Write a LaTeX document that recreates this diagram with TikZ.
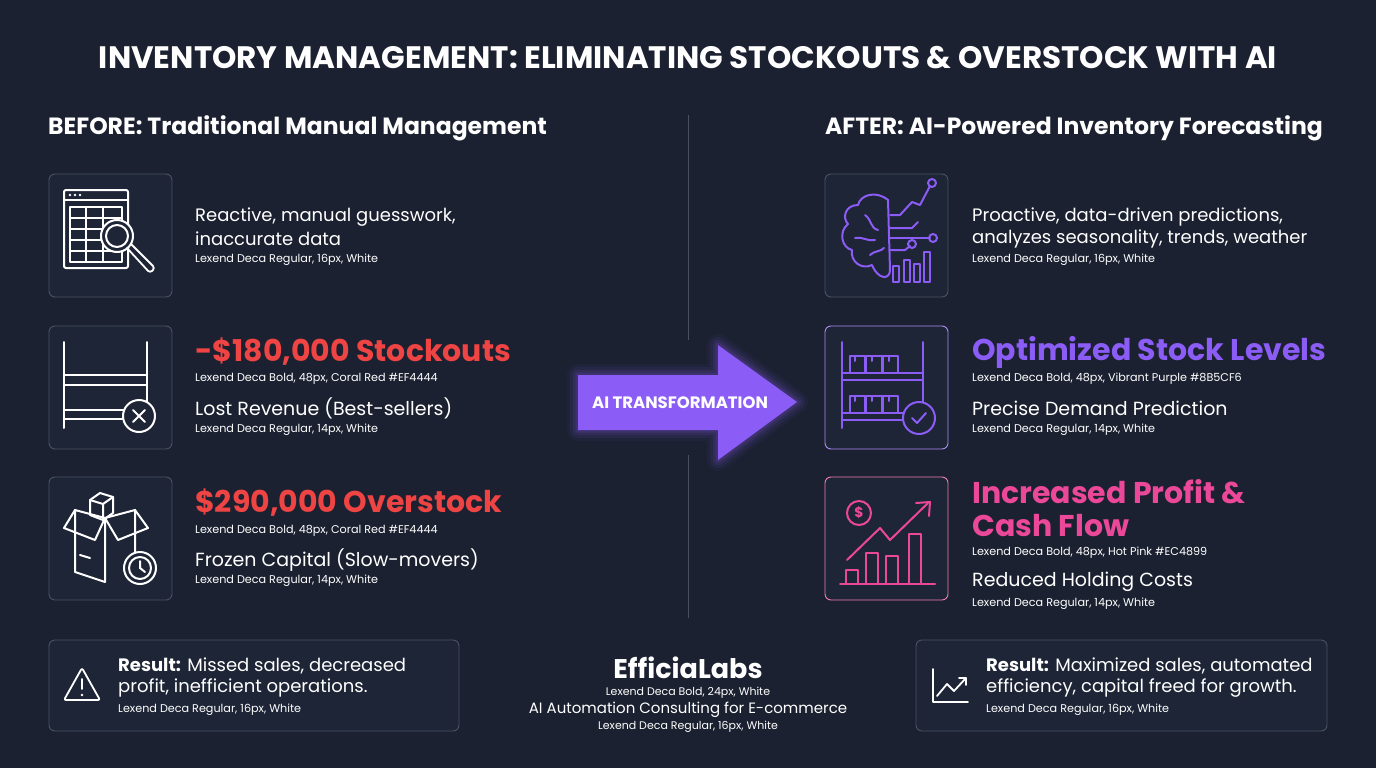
\documentclass[tikz,border=0pt]{standalone}
\usepackage{fontspec}
\setmainfont{Poppins}
\usetikzlibrary{calc}
\definecolor{bg}{HTML}{1B2130}
\definecolor{boxbg}{HTML}{1E2536}
\definecolor{edge}{HTML}{4A5263}
\definecolor{coral}{HTML}{EF4444}
\definecolor{purp}{HTML}{8B5CF6}
\definecolor{pink}{HTML}{EC4899}
\definecolor{divc}{HTML}{4A5060}
\tikzset{
  panel/.style={draw=edge,line width=0.9pt,rounded corners=6pt,fill=boxbg},
  ic/.style={draw=white,line width=2pt,line cap=round,line join=round},
  txt/.style={anchor=west,inner sep=0pt,text=white},
  body/.style={txt,font=\fontsize{18}{20}\selectfont},
  note/.style={txt,font=\fontsize{11.2}{12}\selectfont},
  big/.style={txt,font=\bfseries\fontsize{30}{33}\selectfont},
  head/.style={txt,font=\bfseries\fontsize{23.5}{26}\selectfont},
}
\begin{document}
\begin{tikzpicture}[x=1pt,y=-1pt]
\fill[bg] (0,0) rectangle (1376,768);
\useasboundingbox (0,0) rectangle (1376,768);
% title
\node[font=\bfseries\fontsize{31}{34}\selectfont,text=white,inner sep=0pt] (title) at (688,58) {INVENTORY MANAGEMENT: ELIMINATING STOCKOUTS \& OVERSTOCK WITH AI};
\node[head] (lh) at (48,128) {BEFORE: Traditional Manual Management};
\node[head,anchor=east] (rh) at (1323,128) {AFTER: AI-Powered Inventory Forecasting};
% divider
\coordinate (d1) at (688,115); \coordinate (d2) at (688,340);
\coordinate (d3) at (688,455); \coordinate (d4) at (688,618);
\draw[divc,line width=1pt] (d1)--(d2) (d3)--(d4);
% panels
\node[panel,minimum width=123,minimum height=123] (lb1) at (110.5,235.5) {};
\node[panel,minimum width=123,minimum height=123] (lb2) at (110.5,387.5) {};
\node[panel,minimum width=123,minimum height=123] (lb3) at (110.5,538.5) {};
\node[panel,minimum width=123,minimum height=123] (rb1) at (886.5,235.5) {};
\node[panel,draw=purp!70,minimum width=123,minimum height=123] (rb2) at (886.5,387.5) {};
\node[panel,draw=pink!70,minimum width=123,minimum height=123] (rb3) at (886.5,538.5) {};
% icon 1: spreadsheet + magnifier
\begin{scope}[ic]
\draw[rounded corners=2pt] (64,190) rectangle (128,268);
\draw (64,200)--(128,200);
\fill[white] (70,195) circle (1.3) (75,195) circle (1.3) (80,195) circle (1.3);
\draw (70,207) rectangle (122,262);
\foreach \y in {218,229,240,251} \draw (70,\y)--(122,\y);
\draw (86,207)--(86,262) (103,207)--(103,262);
\draw[fill=boxbg] (117,236) circle (16);
\draw (117,236) circle (11);
\draw[line width=1.8pt,rounded corners=3pt] (127,248)--(150,273)--(155,268)--(131,244);
\end{scope}
% icon 2: shelf with x
\begin{scope}[ic]
\draw (64,342)--(64,428) (147,342)--(147,428);
\draw (64,375)--(147,375) (64,385)--(147,385);
\draw (64,410)--(125,410) (64,419)--(125,419);
\draw[fill=boxbg] (139,416) circle (16);
\draw (133,410)--(145,422) (145,410)--(133,422);
\end{scope}
% icon 3: boxes + clock
\begin{scope}[ic]
\draw (75,510)--(105,518)--(105,582)--(75,572)--cycle;
\draw (105,518)--(135,510)--(135,560);
\draw (75,510)--(64,528)--(95,540)--(105,518);
\draw (135,510)--(148,528)--(118,540)--(105,518);
\draw (80,555)--(90,558);
\draw (90,500)--(100,493)--(113,497)--(113,513)--(103,520)--(90,515)--cycle;
\draw (90,500)--(103,504)--(113,497) (103,504)--(103,520);
\draw[fill=boxbg] (140,568) circle (16);
\draw (140,568) circle (11);
\draw (140,561)--(140,568)--(145,572);
\end{scope}
% right icon 1: brain
\begin{scope}[ic,draw=purp]
\draw (888,200) .. controls (876,190) and (860,195) .. (858,205)
  .. controls (845,205) and (842,218) .. (848,224)
  .. controls (838,232) and (842,248) .. (852,250)
  .. controls (850,262) and (862,270) .. (872,265)
  .. controls (878,280) and (890,280) .. (890,270) -- cycle;
\draw (865,215) .. controls (872,220) and (870,228) .. (878,230);
\draw (855,238) .. controls (862,236) and (868,242) .. (875,240);
\draw (870,255) .. controls (876,250) and (880,252) .. (884,248);
\draw (890,215)--(900,215)--(912,202)--(920,205)--(930,186);
\draw (890,228)--(912,228)--(918,222);
\draw (890,238)--(930,238);
\draw (890,250)--(905,250)--(910,246);
\draw (932,183) circle (4) (933,238) circle (4) (912,244) circle (4);
\draw (893,266) rectangle (899,282) (904,260) rectangle (910,282) (914,264) rectangle (920,282) (924,252) rectangle (930,282);
\end{scope}
% right icon 2: shelf with boxes + check
\begin{scope}[ic,draw=purp]
\draw (842,342)--(842,428) (923,342)--(923,428);
\draw (842,373)--(923,373) (842,380)--(923,380);
\draw (842,413)--(912,413) (842,420)--(912,420);
\draw (850,356) rectangle (865,373) (866,356) rectangle (882,373) (883,356) rectangle (898,373);
\draw (850,396) rectangle (865,413) (866,396) rectangle (882,413) (883,396) rectangle (898,413);
\draw (855,356)--(855,361) (872,356)--(872,361) (889,356)--(889,361);
\draw (855,396)--(855,401) (872,396)--(872,401) (889,396)--(889,401);
\draw[fill=boxbg] (919,418) circle (16);
\draw (912,418)--(917,423)--(926,413);
\end{scope}
% right icon 3: chart + dollar
\begin{scope}[ic,draw=pink]
\draw (840,584)--(935,584);
\draw (846,584)--(846,570)--(858,570)--(858,584);
\draw (866,584)--(866,553)--(878,553)--(878,584);
\draw (886,584)--(886,556)--(898,556)--(898,584);
\draw (909,584)--(909,534)--(921,534)--(921,584);
\draw (847,560)--(880,528)--(890,540)--(928,503);
\draw (916,503)--(930,502)--(929,516);
\draw (859,513) circle (12);
\node[text=pink,font=\bfseries\fontsize{14}{14}\selectfont] (dol) at (859,513) {\$};
\end{scope}
% left texts
\node[body] (t1a) at (195,217) {Reactive, manual guesswork,};
\node[body] (t1b) at (195,239) {inaccurate data};
\node[note] (t1c) at (195,260) {Lexend Deca Regular, 16px, White};
\node[big,text=coral] (t2a) at (195,352) {-\$180,000 Stockouts};
\node[note] (t2b) at (195,379) {Lexend Deca Bold, 48px, Coral Red \#EF4444};
\node[body,font=\fontsize{19}{20}\selectfont] (t2c) at (195,408) {Lost Revenue (Best-sellers)};
\node[note] (t2d) at (195,430) {Lexend Deca Regular, 14px, White};
\node[big,text=coral] (t3a) at (195,503) {\$290,000 Overstock};
\node[note] (t3b) at (195,531) {Lexend Deca Bold, 48px, Coral Red \#EF4444};
\node[body,font=\fontsize{19}{20}\selectfont] (t3c) at (195,560) {Frozen Capital (Slow-movers)};
\node[note] (t3d) at (195,581) {Lexend Deca Regular, 14px, White};
% right texts
\node[body] (u1a) at (972,217) {Proactive, data-driven predictions,};
\node[body] (u1b) at (972,239) {analyzes seasonality, trends, weather};
\node[note] (u1c) at (972,260) {Lexend Deca Regular, 16px, White};
\node[big,text=purp] (u2a) at (972,352) {Optimized Stock Levels};
\node[note] (u2b) at (972,379) {Lexend Deca Bold, 48px, Vibrant Purple \#8B5CF6};
\node[body,font=\fontsize{19}{20}\selectfont] (u2c) at (972,408) {Precise Demand Prediction};
\node[note] (u2d) at (972,430) {Lexend Deca Regular, 14px, White};
\node[big,text=pink] (u3a) at (972,492) {Increased Profit \&};
\node[big,text=pink] (u3b) at (972,526) {Cash Flow};
\node[note] (u3c) at (972,553) {Lexend Deca Bold, 48px, Hot Pink \#EC4899};
\node[body,font=\fontsize{19}{20}\selectfont] (u3d) at (972,582) {Reduced Holding Costs};
\node[note] (u3e) at (972,604) {Lexend Deca Regular, 14px, White};
% arrow
\foreach \w/\o in {22/0.05,16/0.07,10/0.1,5/0.14}
  \draw[purp,opacity=\o,line width=\w,line join=round] (578,375)--(718,375)--(718,345)--(797,402)--(718,460)--(718,430)--(578,430)--cycle;
\fill[purp] (578,375)--(718,375)--(718,345)--(797,402)--(718,460)--(718,430)--(578,430)--cycle;
\node[text=white,font=\bfseries\fontsize{16.5}{18}\selectfont,inner sep=0pt] (arr) at (680,403) {AI TRANSFORMATION};
% bottom boxes
\node[panel,minimum width=410,minimum height=91] (bl) at (254,685.5) {};
\node[panel,minimum width=411,minimum height=91] (br) at (1121.5,685.5) {};
\begin{scope}[ic,line width=1.8pt]
\draw[rounded corners=2pt] (82,668)--(100,700)--(64,700)--cycle;
\draw (82,679)--(82,689);
\fill[white] (82,695) circle (1.4);
\draw (933,669)--(933,702)--(968,702);
\draw (937,696)--(947,684)--(954,691)--(966,678);
\draw (959,678)--(966,678)--(966,685);
\end{scope}
\node[body] (bl1) at (118,666) {\textbf{Result:} Missed sales, decreased};
\node[body] (bl2) at (118,688) {profit, inefficient operations.};
\node[note] (bl3) at (118,710) {Lexend Deca Regular, 16px, White};
\node[body] (br1) at (986,666) {\textbf{Result:} Maximized sales, automated};
\node[body] (br2) at (986,688) {efficiency, capital freed for growth.};
\node[note] (br3) at (986,710) {Lexend Deca Regular, 16px, White};
% center brand
\node[text=white,inner sep=0pt,font=\bfseries\fontsize{27}{30}\selectfont] (brand) at (688,668) {EfficiaLabs};
\node[text=white,inner sep=0pt,font=\fontsize{11}{12}\selectfont] (b2) at (688,693) {Lexend Deca Bold, 24px, White};
\node[text=white,inner sep=0pt,font=\fontsize{15}{18}\selectfont] (b3) at (688,710) {AI Automation Consulting for E-commerce};
\node[text=white,inner sep=0pt,font=\fontsize{11}{12}\selectfont] (b4) at (688,727) {Lexend Deca Regular, 16px, White};
\end{tikzpicture}
\end{document}
